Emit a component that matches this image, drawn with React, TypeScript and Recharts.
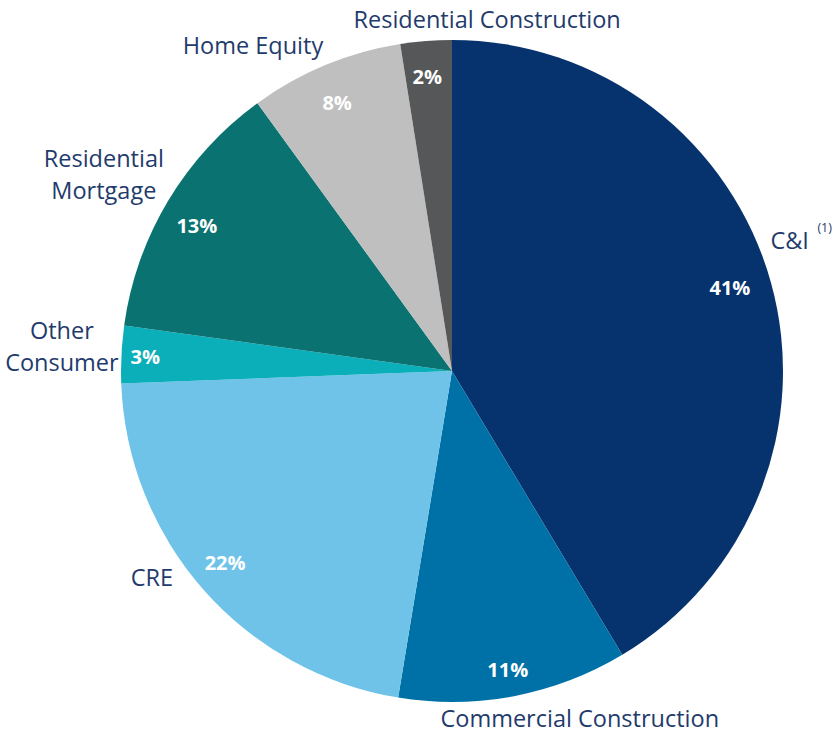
import React from "react";
import { PieChart, Pie, Cell } from "recharts";

const categories = [
  "C&I",
  "Commercial Construction",
  "CRE",
  "Other Consumer",
  "Residential Mortgage",
  "Home Equity",
  "Residential Construction",
];
const shares = [41.4, 11.2, 21.8, 2.8, 12.8, 7.5, 2.5];
const shareLabels = ["41%", "11%", "22%", "3%", "13%", "8%", "2%"];

const colors = ["#06336D", "#0071A7", "#6FC3E9", "#0BAFBA", "#0A7270", "#BFBFBF", "#555759"];

// label layout (style, not data)
const nameLines = [
  ["C&I"],
  ["Commercial Construction"],
  ["CRE"],
  ["Other", "Consumer"],
  ["Residential", "Mortgage"],
  ["Home Equity"],
  ["Residential Construction"],
];
const innerRadiusFactor = [0.877, 0.916, 0.896, 0.928, 0.888, 0.881, 0.894];
const innerAngleShift = [1.3, -0.2, -1.3, 0.1, 1.2, 0.7, 0.3];
const nameAngleShift = [5.7, 9.4, -6.9, -0.8, 1.5, 8.9, -10.2];
const nameRadiusFactor = [1.094, 1.118, 1.1, 1.181, 1.208, 1.154, 1.069];

const data = categories.map((name, i) => ({ name, value: shares[i] }));

const RAD = Math.PI / 180;
const TEXT_COLOR = "#1F3B6C";
const FONT = "'Open Sans', sans-serif";

const renderLabel = (props: any) => {
  const { cx, cy, midAngle, outerRadius, index } = props;
  const ai = midAngle + innerAngleShift[index];
  const ri = outerRadius * innerRadiusFactor[index];
  const ix = cx + ri * Math.cos(-ai * RAD);
  const iy = cy + ri * Math.sin(-ai * RAD);
  const a = midAngle + nameAngleShift[index];
  const ro = outerRadius * nameRadiusFactor[index];
  const ox = cx + ro * Math.cos(-a * RAD);
  const oy = cy + ro * Math.sin(-a * RAD);
  const lines = nameLines[index];
  const lh = 32;
  const startY = oy - ((lines.length - 1) * lh) / 2;
  return (
    <g key={`lbl-${index}`}>
      <text
        x={ix}
        y={iy}
        fill="#FFFFFF"
        textAnchor="middle"
        dominantBaseline="central"
        fontFamily={FONT}
        fontWeight={700}
        fontSize={20}
      >
        {shareLabels[index]}
      </text>
      <text
        x={ox}
        y={startY}
        fill={TEXT_COLOR}
        textAnchor="middle"
        dominantBaseline="central"
        fontFamily={FONT}
        fontSize={23.5}
      >
        {lines.map((ln, j) => (
          <tspan key={j} x={ox} dy={j === 0 ? 0 : lh}>
            {ln}
          </tspan>
        ))}
      </text>
      {index === 0 && (
        <text
          x={ox + 35}
          y={oy - 13}
          fill={TEXT_COLOR}
          textAnchor="middle"
          dominantBaseline="central"
          fontFamily={FONT}
          fontSize={12.5}
        >
          (1)
        </text>
      )}
    </g>
  );
};

export default function App() {
  return (
    <div style={{ position: "absolute", left: 0, top: 0, width: 837, height: 734, background: "#FFFFFF" }}>
      <PieChart width={837} height={734} margin={{ top: 0, right: 0, bottom: 0, left: 0 }}>
        <Pie
          data={data}
          dataKey="value"
          nameKey="name"
          cx={452}
          cy={371}
          outerRadius={331}
          startAngle={90}
          endAngle={-270}
          stroke="none"
          labelLine={false}
          label={renderLabel}
          isAnimationActive={false}
        >
          {data.map((d, i) => (
            <Cell key={d.name} fill={colors[i]} />
          ))}
        </Pie>
      </PieChart>
    </div>
  );
}
